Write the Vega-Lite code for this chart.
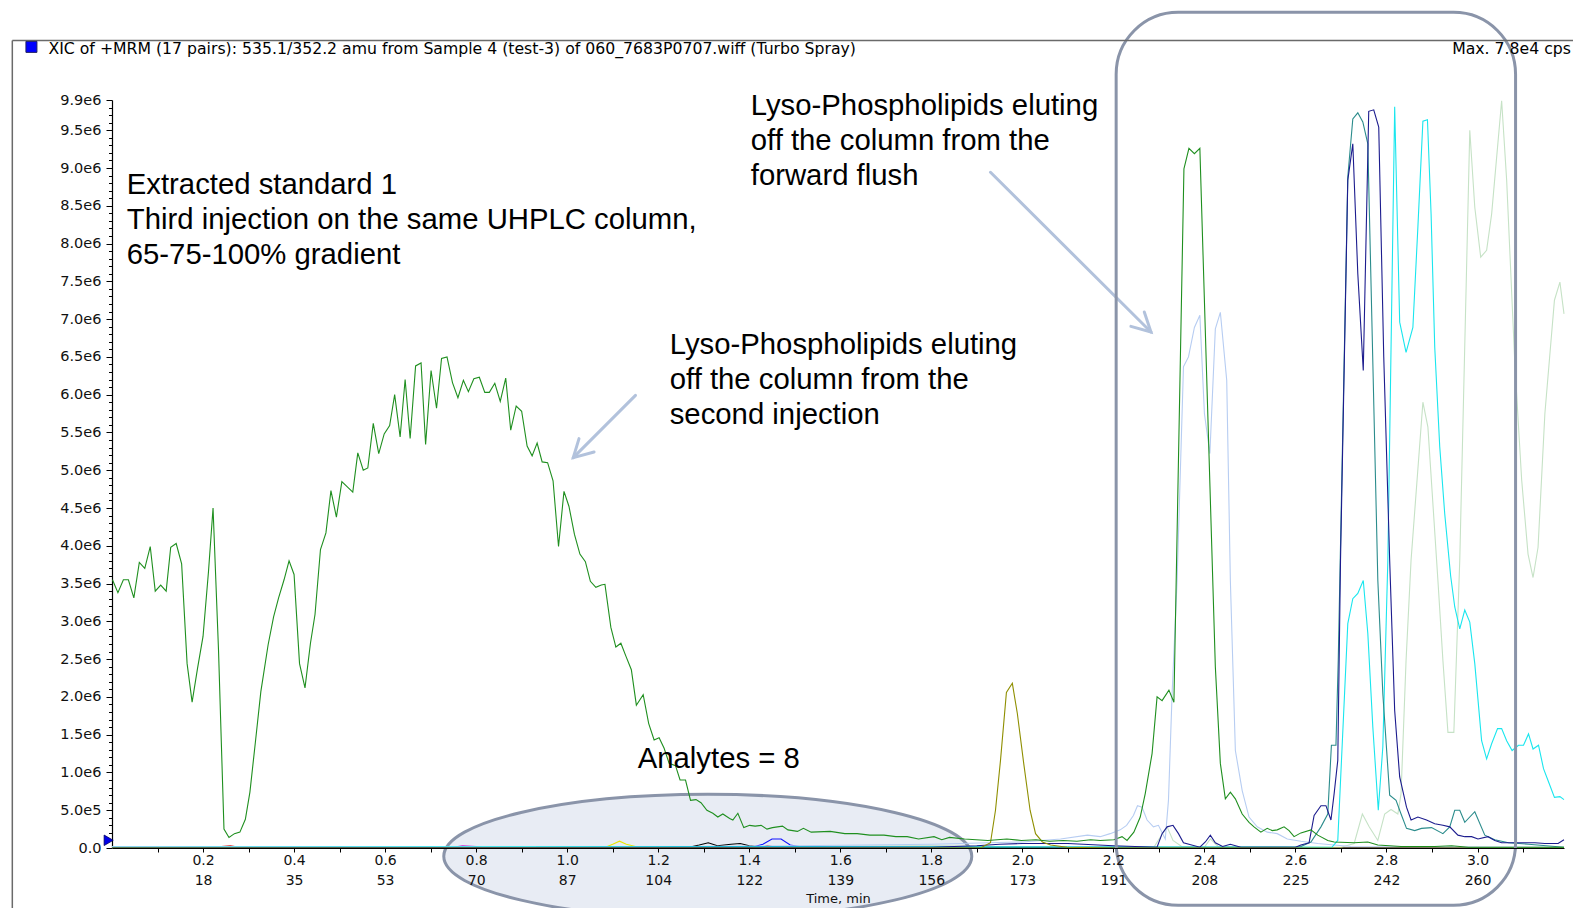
{
  "$schema": "https://vega.github.io/schema/vega-lite/v6.json",
  "autosize": {"type": "none"},
  "padding": {"left": 112, "top": 100, "right": 9, "bottom": 60},
  "width": 1452,
  "height": 748,
  "background": "white",
  "config": {"view": {"stroke": null}, "font": "DejaVu Sans"},
  "datasets": {
    "traces": [
      {"trace": "mrm11", "t": 0.0, "cps": 0}, {"trace": "mrm11", "t": 0.22, "cps": 0}, {"trace": "mrm11", "t": 0.24, "cps": 20000}, {"trace": "mrm11", "t": 0.26, "cps": 30000}, {"trace": "mrm11", "t": 0.28, "cps": 10000}, {"trace": "mrm11", "t": 0.3, "cps": 0}, {"trace": "mrm11", "t": 1.42, "cps": 0}, {"trace": "mrm11", "t": 1.44, "cps": 30000}, {"trace": "mrm11", "t": 1.46, "cps": 10000}, {"trace": "mrm11", "t": 1.5, "cps": 0}, {"trace": "mrm11", "t": 3.19, "cps": 0},
      {"trace": "mrm12", "t": 0.0, "cps": 0}, {"trace": "mrm12", "t": 0.74, "cps": 0}, {"trace": "mrm12", "t": 0.77, "cps": 30000}, {"trace": "mrm12", "t": 0.8, "cps": 20000}, {"trace": "mrm12", "t": 0.82, "cps": 0}, {"trace": "mrm12", "t": 1.25, "cps": 0}, {"trace": "mrm12", "t": 1.27, "cps": 20000}, {"trace": "mrm12", "t": 1.29, "cps": 0}, {"trace": "mrm12", "t": 3.19, "cps": 0},
      {"trace": "mrm08", "t": 0.0, "cps": 0}, {"trace": "mrm08", "t": 1.08, "cps": 0}, {"trace": "mrm08", "t": 1.1, "cps": 50000}, {"trace": "mrm08", "t": 1.115, "cps": 90000}, {"trace": "mrm08", "t": 1.13, "cps": 50000}, {"trace": "mrm08", "t": 1.15, "cps": 20000}, {"trace": "mrm08", "t": 1.17, "cps": 10000}, {"trace": "mrm08", "t": 1.2, "cps": 0}, {"trace": "mrm08", "t": 3.19, "cps": 0},
      {"trace": "mrm09", "t": 0.0, "cps": 0}, {"trace": "mrm09", "t": 1.26, "cps": 0}, {"trace": "mrm09", "t": 1.29, "cps": 40000}, {"trace": "mrm09", "t": 1.31, "cps": 70000}, {"trace": "mrm09", "t": 1.33, "cps": 30000}, {"trace": "mrm09", "t": 1.36, "cps": 50000}, {"trace": "mrm09", "t": 1.38, "cps": 60000}, {"trace": "mrm09", "t": 1.4, "cps": 30000}, {"trace": "mrm09", "t": 1.43, "cps": 10000}, {"trace": "mrm09", "t": 1.46, "cps": 0}, {"trace": "mrm09", "t": 3.19, "cps": 0},
      {"trace": "mrm10", "t": 0.0, "cps": 0}, {"trace": "mrm10", "t": 1.4, "cps": 0}, {"trace": "mrm10", "t": 1.43, "cps": 50000}, {"trace": "mrm10", "t": 1.45, "cps": 120000}, {"trace": "mrm10", "t": 1.47, "cps": 120000}, {"trace": "mrm10", "t": 1.49, "cps": 40000}, {"trace": "mrm10", "t": 1.52, "cps": 10000}, {"trace": "mrm10", "t": 1.55, "cps": 0}, {"trace": "mrm10", "t": 3.19, "cps": 0},
      {"trace": "mrm07", "t": 0.0, "cps": 0}, {"trace": "mrm07", "t": 1.5, "cps": 20000}, {"trace": "mrm07", "t": 1.8, "cps": 30000}, {"trace": "mrm07", "t": 2.2, "cps": 0}, {"trace": "mrm07", "t": 2.29, "cps": 20000}, {"trace": "mrm07", "t": 2.307, "cps": 180000}, {"trace": "mrm07", "t": 2.318, "cps": 280000}, {"trace": "mrm07", "t": 2.331, "cps": 100000}, {"trace": "mrm07", "t": 2.35, "cps": 20000}, {"trace": "mrm07", "t": 2.4, "cps": 10000}, {"trace": "mrm07", "t": 2.413, "cps": 120000}, {"trace": "mrm07", "t": 2.43, "cps": 20000}, {"trace": "mrm07", "t": 2.7, "cps": 10000}, {"trace": "mrm07", "t": 2.729, "cps": 60000}, {"trace": "mrm07", "t": 2.747, "cps": 450000}, {"trace": "mrm07", "t": 2.762, "cps": 280000}, {"trace": "mrm07", "t": 2.781, "cps": 100000}, {"trace": "mrm07", "t": 2.796, "cps": 450000}, {"trace": "mrm07", "t": 2.81, "cps": 510000}, {"trace": "mrm07", "t": 2.825, "cps": 450000}, {"trace": "mrm07", "t": 2.832, "cps": 720000}, {"trace": "mrm07", "t": 2.843, "cps": 2480000}, {"trace": "mrm07", "t": 2.854, "cps": 3810000}, {"trace": "mrm07", "t": 2.88, "cps": 5900000}, {"trace": "mrm07", "t": 2.891, "cps": 5570000}, {"trace": "mrm07", "t": 2.913, "cps": 3540000}, {"trace": "mrm07", "t": 2.924, "cps": 2480000}, {"trace": "mrm07", "t": 2.935, "cps": 1530000}, {"trace": "mrm07", "t": 2.948, "cps": 1530000}, {"trace": "mrm07", "t": 2.961, "cps": 3810000}, {"trace": "mrm07", "t": 2.983, "cps": 9500000}, {"trace": "mrm07", "t": 2.994, "cps": 8480000}, {"trace": "mrm07", "t": 3.007, "cps": 7820000}, {"trace": "mrm07", "t": 3.02, "cps": 7910000}, {"trace": "mrm07", "t": 3.031, "cps": 8390000}, {"trace": "mrm07", "t": 3.053, "cps": 9890000}, {"trace": "mrm07", "t": 3.064, "cps": 8840000}, {"trace": "mrm07", "t": 3.082, "cps": 6410000}, {"trace": "mrm07", "t": 3.097, "cps": 4870000}, {"trace": "mrm07", "t": 3.111, "cps": 3890000}, {"trace": "mrm07", "t": 3.122, "cps": 3580000}, {"trace": "mrm07", "t": 3.133, "cps": 3980000}, {"trace": "mrm07", "t": 3.148, "cps": 5750000}, {"trace": "mrm07", "t": 3.169, "cps": 7250000}, {"trace": "mrm07", "t": 3.181, "cps": 7490000}, {"trace": "mrm07", "t": 3.19, "cps": 7070000},
      {"trace": "mrm03", "t": 0.0, "cps": 20000}, {"trace": "mrm03", "t": 0.5, "cps": 20000}, {"trace": "mrm03", "t": 1.0, "cps": 10000}, {"trace": "mrm03", "t": 1.5, "cps": 30000}, {"trace": "mrm03", "t": 1.8, "cps": 50000}, {"trace": "mrm03", "t": 2.0, "cps": 80000}, {"trace": "mrm03", "t": 2.084, "cps": 120000}, {"trace": "mrm03", "t": 2.143, "cps": 170000}, {"trace": "mrm03", "t": 2.171, "cps": 150000}, {"trace": "mrm03", "t": 2.193, "cps": 190000}, {"trace": "mrm03", "t": 2.215, "cps": 240000}, {"trace": "mrm03", "t": 2.229, "cps": 300000}, {"trace": "mrm03", "t": 2.244, "cps": 430000}, {"trace": "mrm03", "t": 2.253, "cps": 560000}, {"trace": "mrm03", "t": 2.263, "cps": 540000}, {"trace": "mrm03", "t": 2.274, "cps": 370000}, {"trace": "mrm03", "t": 2.288, "cps": 280000}, {"trace": "mrm03", "t": 2.299, "cps": 300000}, {"trace": "mrm03", "t": 2.314, "cps": 120000}, {"trace": "mrm03", "t": 2.321, "cps": 630000}, {"trace": "mrm03", "t": 2.329, "cps": 2040000}, {"trace": "mrm03", "t": 2.34, "cps": 3540000}, {"trace": "mrm03", "t": 2.354, "cps": 6370000}, {"trace": "mrm03", "t": 2.365, "cps": 6500000}, {"trace": "mrm03", "t": 2.378, "cps": 6890000}, {"trace": "mrm03", "t": 2.39, "cps": 7050000}, {"trace": "mrm03", "t": 2.4, "cps": 5750000}, {"trace": "mrm03", "t": 2.412, "cps": 5220000}, {"trace": "mrm03", "t": 2.424, "cps": 6870000}, {"trace": "mrm03", "t": 2.435, "cps": 7090000}, {"trace": "mrm03", "t": 2.449, "cps": 6190000}, {"trace": "mrm03", "t": 2.457, "cps": 3540000}, {"trace": "mrm03", "t": 2.468, "cps": 1290000}, {"trace": "mrm03", "t": 2.483, "cps": 760000}, {"trace": "mrm03", "t": 2.498, "cps": 410000}, {"trace": "mrm03", "t": 2.516, "cps": 280000}, {"trace": "mrm03", "t": 2.538, "cps": 210000}, {"trace": "mrm03", "t": 2.56, "cps": 190000}, {"trace": "mrm03", "t": 2.582, "cps": 120000}, {"trace": "mrm03", "t": 2.612, "cps": 90000}, {"trace": "mrm03", "t": 2.649, "cps": 60000}, {"trace": "mrm03", "t": 2.685, "cps": 40000}, {"trace": "mrm03", "t": 2.722, "cps": 20000}, {"trace": "mrm03", "t": 3.19, "cps": 10000},
      {"trace": "mrm06", "t": 0.0, "cps": 10000}, {"trace": "mrm06", "t": 1.5, "cps": 20000}, {"trace": "mrm06", "t": 2.68, "cps": 10000}, {"trace": "mrm06", "t": 2.693, "cps": 100000}, {"trace": "mrm06", "t": 2.715, "cps": 2970000}, {"trace": "mrm06", "t": 2.726, "cps": 3300000}, {"trace": "mrm06", "t": 2.737, "cps": 3370000}, {"trace": "mrm06", "t": 2.749, "cps": 3540000}, {"trace": "mrm06", "t": 2.759, "cps": 2840000}, {"trace": "mrm06", "t": 2.77, "cps": 1600000}, {"trace": "mrm06", "t": 2.782, "cps": 500000}, {"trace": "mrm06", "t": 2.792, "cps": 1340000}, {"trace": "mrm06", "t": 2.803, "cps": 3810000}, {"trace": "mrm06", "t": 2.818, "cps": 9810000}, {"trace": "mrm06", "t": 2.829, "cps": 6960000}, {"trace": "mrm06", "t": 2.843, "cps": 6560000}, {"trace": "mrm06", "t": 2.858, "cps": 6890000}, {"trace": "mrm06", "t": 2.869, "cps": 8220000}, {"trace": "mrm06", "t": 2.88, "cps": 9620000}, {"trace": "mrm06", "t": 2.89, "cps": 9640000}, {"trace": "mrm06", "t": 2.898, "cps": 8390000}, {"trace": "mrm06", "t": 2.906, "cps": 6630000}, {"trace": "mrm06", "t": 2.917, "cps": 5310000}, {"trace": "mrm06", "t": 2.928, "cps": 4420000}, {"trace": "mrm06", "t": 2.941, "cps": 3600000}, {"trace": "mrm06", "t": 2.95, "cps": 3190000}, {"trace": "mrm06", "t": 2.961, "cps": 2900000}, {"trace": "mrm06", "t": 2.972, "cps": 3150000}, {"trace": "mrm06", "t": 2.983, "cps": 2990000}, {"trace": "mrm06", "t": 2.994, "cps": 2440000}, {"trace": "mrm06", "t": 3.009, "cps": 1420000}, {"trace": "mrm06", "t": 3.02, "cps": 1180000}, {"trace": "mrm06", "t": 3.031, "cps": 1380000}, {"trace": "mrm06", "t": 3.044, "cps": 1580000}, {"trace": "mrm06", "t": 3.053, "cps": 1580000}, {"trace": "mrm06", "t": 3.064, "cps": 1420000}, {"trace": "mrm06", "t": 3.076, "cps": 1290000}, {"trace": "mrm06", "t": 3.09, "cps": 1360000}, {"trace": "mrm06", "t": 3.101, "cps": 1360000}, {"trace": "mrm06", "t": 3.112, "cps": 1510000}, {"trace": "mrm06", "t": 3.122, "cps": 1310000}, {"trace": "mrm06", "t": 3.134, "cps": 1360000}, {"trace": "mrm06", "t": 3.145, "cps": 1050000}, {"trace": "mrm06", "t": 3.157, "cps": 860000}, {"trace": "mrm06", "t": 3.169, "cps": 670000}, {"trace": "mrm06", "t": 3.181, "cps": 680000}, {"trace": "mrm06", "t": 3.19, "cps": 640000},
      {"trace": "mrm05", "t": 0.0, "cps": 0}, {"trace": "mrm05", "t": 2.6, "cps": 10000}, {"trace": "mrm05", "t": 2.612, "cps": 20000}, {"trace": "mrm05", "t": 2.634, "cps": 80000}, {"trace": "mrm05", "t": 2.656, "cps": 280000}, {"trace": "mrm05", "t": 2.671, "cps": 450000}, {"trace": "mrm05", "t": 2.679, "cps": 1360000}, {"trace": "mrm05", "t": 2.689, "cps": 1360000}, {"trace": "mrm05", "t": 2.694, "cps": 2480000}, {"trace": "mrm05", "t": 2.715, "cps": 8880000}, {"trace": "mrm05", "t": 2.726, "cps": 9650000}, {"trace": "mrm05", "t": 2.737, "cps": 9730000}, {"trace": "mrm05", "t": 2.748, "cps": 9610000}, {"trace": "mrm05", "t": 2.759, "cps": 9320000}, {"trace": "mrm05", "t": 2.781, "cps": 3540000}, {"trace": "mrm05", "t": 2.792, "cps": 2040000}, {"trace": "mrm05", "t": 2.807, "cps": 700000}, {"trace": "mrm05", "t": 2.821, "cps": 630000}, {"trace": "mrm05", "t": 2.832, "cps": 450000}, {"trace": "mrm05", "t": 2.844, "cps": 260000}, {"trace": "mrm05", "t": 2.862, "cps": 230000}, {"trace": "mrm05", "t": 2.877, "cps": 260000}, {"trace": "mrm05", "t": 2.899, "cps": 270000}, {"trace": "mrm05", "t": 2.924, "cps": 190000}, {"trace": "mrm05", "t": 2.939, "cps": 280000}, {"trace": "mrm05", "t": 2.95, "cps": 500000}, {"trace": "mrm05", "t": 2.961, "cps": 500000}, {"trace": "mrm05", "t": 2.972, "cps": 340000}, {"trace": "mrm05", "t": 2.994, "cps": 480000}, {"trace": "mrm05", "t": 3.016, "cps": 170000}, {"trace": "mrm05", "t": 3.038, "cps": 110000}, {"trace": "mrm05", "t": 3.068, "cps": 70000}, {"trace": "mrm05", "t": 3.112, "cps": 50000}, {"trace": "mrm05", "t": 3.19, "cps": 10000},
      {"trace": "mrm04", "t": 0.0, "cps": 0}, {"trace": "mrm04", "t": 1.8, "cps": 10000}, {"trace": "mrm04", "t": 1.9, "cps": 30000}, {"trace": "mrm04", "t": 1.95, "cps": 50000}, {"trace": "mrm04", "t": 2.0, "cps": 60000}, {"trace": "mrm04", "t": 2.1, "cps": 60000}, {"trace": "mrm04", "t": 2.2, "cps": 30000}, {"trace": "mrm04", "t": 2.296, "cps": 10000}, {"trace": "mrm04", "t": 2.307, "cps": 190000}, {"trace": "mrm04", "t": 2.318, "cps": 280000}, {"trace": "mrm04", "t": 2.331, "cps": 300000}, {"trace": "mrm04", "t": 2.343, "cps": 190000}, {"trace": "mrm04", "t": 2.354, "cps": 70000}, {"trace": "mrm04", "t": 2.39, "cps": 10000}, {"trace": "mrm04", "t": 2.402, "cps": 80000}, {"trace": "mrm04", "t": 2.413, "cps": 170000}, {"trace": "mrm04", "t": 2.424, "cps": 70000}, {"trace": "mrm04", "t": 2.44, "cps": 20000}, {"trace": "mrm04", "t": 2.457, "cps": 50000}, {"trace": "mrm04", "t": 2.48, "cps": 10000}, {"trace": "mrm04", "t": 2.6, "cps": 10000}, {"trace": "mrm04", "t": 2.612, "cps": 40000}, {"trace": "mrm04", "t": 2.63, "cps": 70000}, {"trace": "mrm04", "t": 2.641, "cps": 430000}, {"trace": "mrm04", "t": 2.656, "cps": 560000}, {"trace": "mrm04", "t": 2.667, "cps": 560000}, {"trace": "mrm04", "t": 2.678, "cps": 370000}, {"trace": "mrm04", "t": 2.685, "cps": 720000}, {"trace": "mrm04", "t": 2.693, "cps": 1160000}, {"trace": "mrm04", "t": 2.699, "cps": 3810000}, {"trace": "mrm04", "t": 2.715, "cps": 8840000}, {"trace": "mrm04", "t": 2.726, "cps": 9320000}, {"trace": "mrm04", "t": 2.737, "cps": 7600000}, {"trace": "mrm04", "t": 2.749, "cps": 6320000}, {"trace": "mrm04", "t": 2.761, "cps": 9750000}, {"trace": "mrm04", "t": 2.772, "cps": 9770000}, {"trace": "mrm04", "t": 2.783, "cps": 9540000}, {"trace": "mrm04", "t": 2.794, "cps": 6500000}, {"trace": "mrm04", "t": 2.807, "cps": 3810000}, {"trace": "mrm04", "t": 2.818, "cps": 1820000}, {"trace": "mrm04", "t": 2.829, "cps": 940000}, {"trace": "mrm04", "t": 2.844, "cps": 540000}, {"trace": "mrm04", "t": 2.854, "cps": 370000}, {"trace": "mrm04", "t": 2.869, "cps": 410000}, {"trace": "mrm04", "t": 2.888, "cps": 370000}, {"trace": "mrm04", "t": 2.906, "cps": 320000}, {"trace": "mrm04", "t": 2.924, "cps": 300000}, {"trace": "mrm04", "t": 2.939, "cps": 280000}, {"trace": "mrm04", "t": 2.957, "cps": 170000}, {"trace": "mrm04", "t": 2.972, "cps": 150000}, {"trace": "mrm04", "t": 2.987, "cps": 150000}, {"trace": "mrm04", "t": 3.001, "cps": 120000}, {"trace": "mrm04", "t": 3.023, "cps": 150000}, {"trace": "mrm04", "t": 3.038, "cps": 100000}, {"trace": "mrm04", "t": 3.053, "cps": 70000}, {"trace": "mrm04", "t": 3.089, "cps": 70000}, {"trace": "mrm04", "t": 3.126, "cps": 70000}, {"trace": "mrm04", "t": 3.148, "cps": 60000}, {"trace": "mrm04", "t": 3.177, "cps": 60000}, {"trace": "mrm04", "t": 3.19, "cps": 110000},
      {"trace": "mrm02", "t": 0.0, "cps": 0}, {"trace": "mrm02", "t": 1.908, "cps": 0}, {"trace": "mrm02", "t": 1.93, "cps": 70000}, {"trace": "mrm02", "t": 1.941, "cps": 500000}, {"trace": "mrm02", "t": 1.952, "cps": 1160000}, {"trace": "mrm02", "t": 1.965, "cps": 2060000}, {"trace": "mrm02", "t": 1.978, "cps": 2180000}, {"trace": "mrm02", "t": 1.989, "cps": 1780000}, {"trace": "mrm02", "t": 2.003, "cps": 1120000}, {"trace": "mrm02", "t": 2.017, "cps": 500000}, {"trace": "mrm02", "t": 2.029, "cps": 190000}, {"trace": "mrm02", "t": 2.044, "cps": 80000}, {"trace": "mrm02", "t": 2.062, "cps": 40000}, {"trace": "mrm02", "t": 2.098, "cps": 10000}, {"trace": "mrm02", "t": 2.2, "cps": 0}, {"trace": "mrm02", "t": 3.19, "cps": 0},
      {"trace": "mrm01", "t": 0.001, "cps": 3550000}, {"trace": "mrm01", "t": 0.013, "cps": 3380000}, {"trace": "mrm01", "t": 0.025, "cps": 3550000}, {"trace": "mrm01", "t": 0.036, "cps": 3550000}, {"trace": "mrm01", "t": 0.048, "cps": 3310000}, {"trace": "mrm01", "t": 0.06, "cps": 3780000}, {"trace": "mrm01", "t": 0.072, "cps": 3700000}, {"trace": "mrm01", "t": 0.084, "cps": 3990000}, {"trace": "mrm01", "t": 0.095, "cps": 3400000}, {"trace": "mrm01", "t": 0.107, "cps": 3480000}, {"trace": "mrm01", "t": 0.119, "cps": 3400000}, {"trace": "mrm01", "t": 0.129, "cps": 3980000}, {"trace": "mrm01", "t": 0.141, "cps": 4030000}, {"trace": "mrm01", "t": 0.153, "cps": 3760000}, {"trace": "mrm01", "t": 0.165, "cps": 2440000}, {"trace": "mrm01", "t": 0.176, "cps": 1930000}, {"trace": "mrm01", "t": 0.188, "cps": 2380000}, {"trace": "mrm01", "t": 0.2, "cps": 2800000}, {"trace": "mrm01", "t": 0.212, "cps": 3660000}, {"trace": "mrm01", "t": 0.222, "cps": 4500000}, {"trace": "mrm01", "t": 0.234, "cps": 2620000}, {"trace": "mrm01", "t": 0.246, "cps": 250000}, {"trace": "mrm01", "t": 0.257, "cps": 140000}, {"trace": "mrm01", "t": 0.269, "cps": 190000}, {"trace": "mrm01", "t": 0.281, "cps": 210000}, {"trace": "mrm01", "t": 0.293, "cps": 380000}, {"trace": "mrm01", "t": 0.303, "cps": 740000}, {"trace": "mrm01", "t": 0.315, "cps": 1400000}, {"trace": "mrm01", "t": 0.327, "cps": 2070000}, {"trace": "mrm01", "t": 0.343, "cps": 2690000}, {"trace": "mrm01", "t": 0.355, "cps": 3060000}, {"trace": "mrm01", "t": 0.366, "cps": 3310000}, {"trace": "mrm01", "t": 0.378, "cps": 3550000}, {"trace": "mrm01", "t": 0.389, "cps": 3800000}, {"trace": "mrm01", "t": 0.4, "cps": 3620000}, {"trace": "mrm01", "t": 0.412, "cps": 2440000}, {"trace": "mrm01", "t": 0.424, "cps": 2120000}, {"trace": "mrm01", "t": 0.436, "cps": 2710000}, {"trace": "mrm01", "t": 0.446, "cps": 3090000}, {"trace": "mrm01", "t": 0.458, "cps": 3950000}, {"trace": "mrm01", "t": 0.47, "cps": 4170000}, {"trace": "mrm01", "t": 0.481, "cps": 4730000}, {"trace": "mrm01", "t": 0.493, "cps": 4380000}, {"trace": "mrm01", "t": 0.505, "cps": 4850000}, {"trace": "mrm01", "t": 0.517, "cps": 4780000}, {"trace": "mrm01", "t": 0.529, "cps": 4710000}, {"trace": "mrm01", "t": 0.54, "cps": 5230000}, {"trace": "mrm01", "t": 0.552, "cps": 5000000}, {"trace": "mrm01", "t": 0.562, "cps": 5030000}, {"trace": "mrm01", "t": 0.574, "cps": 5620000}, {"trace": "mrm01", "t": 0.586, "cps": 5220000}, {"trace": "mrm01", "t": 0.598, "cps": 5480000}, {"trace": "mrm01", "t": 0.61, "cps": 5590000}, {"trace": "mrm01", "t": 0.621, "cps": 6000000}, {"trace": "mrm01", "t": 0.633, "cps": 5440000}, {"trace": "mrm01", "t": 0.644, "cps": 6200000}, {"trace": "mrm01", "t": 0.655, "cps": 5420000}, {"trace": "mrm01", "t": 0.667, "cps": 6380000}, {"trace": "mrm01", "t": 0.679, "cps": 6420000}, {"trace": "mrm01", "t": 0.689, "cps": 5340000}, {"trace": "mrm01", "t": 0.701, "cps": 6320000}, {"trace": "mrm01", "t": 0.713, "cps": 5820000}, {"trace": "mrm01", "t": 0.724, "cps": 6480000}, {"trace": "mrm01", "t": 0.736, "cps": 6500000}, {"trace": "mrm01", "t": 0.748, "cps": 6160000}, {"trace": "mrm01", "t": 0.76, "cps": 5960000}, {"trace": "mrm01", "t": 0.772, "cps": 6190000}, {"trace": "mrm01", "t": 0.783, "cps": 6040000}, {"trace": "mrm01", "t": 0.795, "cps": 6210000}, {"trace": "mrm01", "t": 0.807, "cps": 6230000}, {"trace": "mrm01", "t": 0.819, "cps": 6030000}, {"trace": "mrm01", "t": 0.829, "cps": 6030000}, {"trace": "mrm01", "t": 0.841, "cps": 6150000}, {"trace": "mrm01", "t": 0.853, "cps": 5910000}, {"trace": "mrm01", "t": 0.865, "cps": 6220000}, {"trace": "mrm01", "t": 0.876, "cps": 5530000}, {"trace": "mrm01", "t": 0.888, "cps": 5850000}, {"trace": "mrm01", "t": 0.9, "cps": 5780000}, {"trace": "mrm01", "t": 0.912, "cps": 5320000}, {"trace": "mrm01", "t": 0.923, "cps": 5190000}, {"trace": "mrm01", "t": 0.934, "cps": 5360000}, {"trace": "mrm01", "t": 0.945, "cps": 5110000}, {"trace": "mrm01", "t": 0.957, "cps": 5100000}, {"trace": "mrm01", "t": 0.969, "cps": 4860000}, {"trace": "mrm01", "t": 0.981, "cps": 3990000}, {"trace": "mrm01", "t": 0.993, "cps": 4720000}, {"trace": "mrm01", "t": 1.004, "cps": 4520000}, {"trace": "mrm01", "t": 1.016, "cps": 4150000}, {"trace": "mrm01", "t": 1.028, "cps": 3890000}, {"trace": "mrm01", "t": 1.04, "cps": 3790000}, {"trace": "mrm01", "t": 1.051, "cps": 3530000}, {"trace": "mrm01", "t": 1.063, "cps": 3450000}, {"trace": "mrm01", "t": 1.075, "cps": 3480000}, {"trace": "mrm01", "t": 1.083, "cps": 3490000}, {"trace": "mrm01", "t": 1.096, "cps": 2920000}, {"trace": "mrm01", "t": 1.107, "cps": 2660000}, {"trace": "mrm01", "t": 1.118, "cps": 2710000}, {"trace": "mrm01", "t": 1.129, "cps": 2540000}, {"trace": "mrm01", "t": 1.141, "cps": 2360000}, {"trace": "mrm01", "t": 1.152, "cps": 1890000}, {"trace": "mrm01", "t": 1.167, "cps": 2030000}, {"trace": "mrm01", "t": 1.179, "cps": 1650000}, {"trace": "mrm01", "t": 1.191, "cps": 1430000}, {"trace": "mrm01", "t": 1.202, "cps": 1460000}, {"trace": "mrm01", "t": 1.213, "cps": 1320000}, {"trace": "mrm01", "t": 1.224, "cps": 1120000}, {"trace": "mrm01", "t": 1.238, "cps": 1090000}, {"trace": "mrm01", "t": 1.248, "cps": 900000}, {"trace": "mrm01", "t": 1.26, "cps": 900000}, {"trace": "mrm01", "t": 1.271, "cps": 630000}, {"trace": "mrm01", "t": 1.283, "cps": 640000}, {"trace": "mrm01", "t": 1.294, "cps": 600000}, {"trace": "mrm01", "t": 1.307, "cps": 500000}, {"trace": "mrm01", "t": 1.32, "cps": 460000}, {"trace": "mrm01", "t": 1.331, "cps": 410000}, {"trace": "mrm01", "t": 1.342, "cps": 450000}, {"trace": "mrm01", "t": 1.357, "cps": 390000}, {"trace": "mrm01", "t": 1.364, "cps": 370000}, {"trace": "mrm01", "t": 1.375, "cps": 460000}, {"trace": "mrm01", "t": 1.388, "cps": 270000}, {"trace": "mrm01", "t": 1.401, "cps": 300000}, {"trace": "mrm01", "t": 1.413, "cps": 290000}, {"trace": "mrm01", "t": 1.426, "cps": 300000}, {"trace": "mrm01", "t": 1.439, "cps": 250000}, {"trace": "mrm01", "t": 1.451, "cps": 270000}, {"trace": "mrm01", "t": 1.473, "cps": 290000}, {"trace": "mrm01", "t": 1.485, "cps": 240000}, {"trace": "mrm01", "t": 1.506, "cps": 220000}, {"trace": "mrm01", "t": 1.519, "cps": 260000}, {"trace": "mrm01", "t": 1.536, "cps": 210000}, {"trace": "mrm01", "t": 1.578, "cps": 220000}, {"trace": "mrm01", "t": 1.61, "cps": 190000}, {"trace": "mrm01", "t": 1.637, "cps": 190000}, {"trace": "mrm01", "t": 1.665, "cps": 170000}, {"trace": "mrm01", "t": 1.696, "cps": 170000}, {"trace": "mrm01", "t": 1.722, "cps": 150000}, {"trace": "mrm01", "t": 1.747, "cps": 150000}, {"trace": "mrm01", "t": 1.772, "cps": 120000}, {"trace": "mrm01", "t": 1.806, "cps": 150000}, {"trace": "mrm01", "t": 1.823, "cps": 110000}, {"trace": "mrm01", "t": 1.84, "cps": 140000}, {"trace": "mrm01", "t": 1.873, "cps": 120000}, {"trace": "mrm01", "t": 1.924, "cps": 100000}, {"trace": "mrm01", "t": 1.966, "cps": 120000}, {"trace": "mrm01", "t": 1.998, "cps": 100000}, {"trace": "mrm01", "t": 2.03, "cps": 110000}, {"trace": "mrm01", "t": 2.06, "cps": 90000}, {"trace": "mrm01", "t": 2.09, "cps": 100000}, {"trace": "mrm01", "t": 2.12, "cps": 90000}, {"trace": "mrm01", "t": 2.15, "cps": 110000}, {"trace": "mrm01", "t": 2.171, "cps": 100000}, {"trace": "mrm01", "t": 2.201, "cps": 110000}, {"trace": "mrm01", "t": 2.219, "cps": 150000}, {"trace": "mrm01", "t": 2.23, "cps": 100000}, {"trace": "mrm01", "t": 2.245, "cps": 210000}, {"trace": "mrm01", "t": 2.259, "cps": 410000}, {"trace": "mrm01", "t": 2.27, "cps": 720000}, {"trace": "mrm01", "t": 2.285, "cps": 1250000}, {"trace": "mrm01", "t": 2.296, "cps": 2000000}, {"trace": "mrm01", "t": 2.307, "cps": 1950000}, {"trace": "mrm01", "t": 2.322, "cps": 2090000}, {"trace": "mrm01", "t": 2.333, "cps": 1930000}, {"trace": "mrm01", "t": 2.355, "cps": 8990000}, {"trace": "mrm01", "t": 2.366, "cps": 9260000}, {"trace": "mrm01", "t": 2.378, "cps": 9190000}, {"trace": "mrm01", "t": 2.39, "cps": 9260000}, {"trace": "mrm01", "t": 2.424, "cps": 2400000}, {"trace": "mrm01", "t": 2.435, "cps": 1120000}, {"trace": "mrm01", "t": 2.446, "cps": 650000}, {"trace": "mrm01", "t": 2.457, "cps": 740000}, {"trace": "mrm01", "t": 2.468, "cps": 650000}, {"trace": "mrm01", "t": 2.483, "cps": 450000}, {"trace": "mrm01", "t": 2.498, "cps": 340000}, {"trace": "mrm01", "t": 2.509, "cps": 280000}, {"trace": "mrm01", "t": 2.524, "cps": 210000}, {"trace": "mrm01", "t": 2.538, "cps": 260000}, {"trace": "mrm01", "t": 2.549, "cps": 230000}, {"trace": "mrm01", "t": 2.56, "cps": 240000}, {"trace": "mrm01", "t": 2.575, "cps": 280000}, {"trace": "mrm01", "t": 2.586, "cps": 230000}, {"trace": "mrm01", "t": 2.597, "cps": 150000}, {"trace": "mrm01", "t": 2.612, "cps": 200000}, {"trace": "mrm01", "t": 2.634, "cps": 240000}, {"trace": "mrm01", "t": 2.649, "cps": 170000}, {"trace": "mrm01", "t": 2.671, "cps": 100000}, {"trace": "mrm01", "t": 2.685, "cps": 80000}, {"trace": "mrm01", "t": 2.729, "cps": 70000}, {"trace": "mrm01", "t": 2.759, "cps": 80000}, {"trace": "mrm01", "t": 2.781, "cps": 40000}, {"trace": "mrm01", "t": 2.832, "cps": 20000}, {"trace": "mrm01", "t": 2.906, "cps": 20000}, {"trace": "mrm01", "t": 2.943, "cps": 30000}, {"trace": "mrm01", "t": 2.98, "cps": 10000}, {"trace": "mrm01", "t": 3.19, "cps": 10000}
    ],
    "captions": [
      {"t": 0.0324, "cps": 8659000, "text": "Extracted standard 1"},
      {"t": 0.0324, "cps": 8196000, "text": "Third injection on the same UHPLC column,"},
      {"t": 0.0324, "cps": 7733000, "text": "65-75-100% gradient"},
      {"t": 1.2253, "cps": 6542000, "text": "Lyso-Phospholipids eluting"},
      {"t": 1.2253, "cps": 6079000, "text": "off the column from the"},
      {"t": 1.2253, "cps": 5615000, "text": "second injection"},
      {"t": 1.4033, "cps": 9705000, "text": "Lyso-Phospholipids eluting"},
      {"t": 1.4033, "cps": 9242000, "text": "off the column from the"},
      {"t": 1.4033, "cps": 8778000, "text": "forward flush"},
      {"t": 1.155, "cps": 1063000, "text": "Analytes = 8"}
    ],
    "header": [
      {"t": -0.1396, "cps": 10504000, "text": "XIC of +MRM (17 pairs): 535.1/352.2 amu from Sample 4 (test-3) of 060_7683P0707.wiff (Turbo Spray)", "side": "left"},
      {"t": 3.2052, "cps": 10504000, "text": "Max. 7.8e4 cps", "side": "right"}
    ],
    "arrows": [
      {"arrow": "a1", "ord": 1, "t": 1.1501, "cps": 5991000},
      {"arrow": "a1", "ord": 2, "t": 1.0134, "cps": 5167000},
      {"arrow": "a1h", "ord": 1, "t": 1.026, "cps": 5418000},
      {"arrow": "a1h", "ord": 2, "t": 1.0134, "cps": 5167000},
      {"arrow": "a1h", "ord": 3, "t": 1.0591, "cps": 5241000},
      {"arrow": "a2", "ord": 1, "t": 1.93, "cps": 8943000},
      {"arrow": "a2", "ord": 2, "t": 2.2826, "cps": 6829000},
      {"arrow": "a2h", "ord": 1, "t": 2.2679, "cps": 7094000},
      {"arrow": "a2h", "ord": 2, "t": 2.2826, "cps": 6829000},
      {"arrow": "a2h", "ord": 3, "t": 2.2385, "cps": 6904000}
    ],
    "frame": [
      {"t": -0.219, "t2": 3.2224, "cps": 10688000, "cps2": 10688000},
      {"t": -0.219, "t2": -0.219, "cps": 10688000, "cps2": -800000}
    ],
    "box": [{"t": 2.2061, "t2": 3.0836, "cps": 11060000, "cps2": -758000}],
    "ellipse": [{"t": 1.3089, "cps": -110000}],
    "swatch": [{"t": -0.177, "cps": 10603000}],
    "marker": [{"t": -0.0073, "cps": 102000}]
  },
  "encoding": {
    "x": {
      "field": "t", "type": "quantitative",
      "scale": {"domain": [0, 3.19], "nice": false, "zero": false},
      "axis": {
        "title": "Time, min",
        "zindex": 1,
        "values": [0.1, 0.2, 0.3, 0.4, 0.5, 0.6, 0.7, 0.8, 0.9, 1.0, 1.1, 1.2, 1.3, 1.4, 1.5, 1.6, 1.7, 1.8, 1.9, 2.0, 2.1, 2.2, 2.3, 2.4, 2.5, 2.6, 2.7, 2.8, 2.9, 3.0, 3.1],
        "labelExpr": "round(datum.value * 10) % 2 == 0 ? [format(datum.value, '.1f'), ['', '18', '35', '53', '70', '87', '104', '122', '139', '156', '173', '191', '208', '225', '242', '260'][round(datum.value * 5)]] : ''",
        "grid": false,
        "tickSize": 4, "tickColor": "#000000", "domainColor": "#000000", "domainWidth": 1.2,
        "labelFont": "DejaVu Sans", "labelFontSize": 14, "labelColor": "#111111", "labelLineHeight": 20, "labelPadding": 1,
        "labelOverlap": false, "labelFlush": false,
        "titleFont": "DejaVu Sans", "titleFontSize": 13, "titleFontWeight": "normal", "titleColor": "#111111", "titlePadding": 5
      }
    },
    "y": {
      "field": "cps", "type": "quantitative",
      "scale": {"domain": [0, 9900000], "nice": false, "zero": true},
      "axis": {
        "title": null,
        "values": [0, 100000, 200000, 300000, 400000, 500000, 600000, 700000, 800000, 900000, 1000000, 1100000, 1200000, 1300000, 1400000, 1500000, 1600000, 1700000, 1800000, 1900000, 2000000, 2100000, 2200000, 2300000, 2400000, 2500000, 2600000, 2700000, 2800000, 2900000, 3000000, 3100000, 3200000, 3300000, 3400000, 3500000, 3600000, 3700000, 3800000, 3900000, 4000000, 4100000, 4200000, 4300000, 4400000, 4500000, 4600000, 4700000, 4800000, 4900000, 5000000, 5100000, 5200000, 5300000, 5400000, 5500000, 5600000, 5700000, 5800000, 5900000, 6000000, 6100000, 6200000, 6300000, 6400000, 6500000, 6600000, 6700000, 6800000, 6900000, 7000000, 7100000, 7200000, 7300000, 7400000, 7500000, 7600000, 7700000, 7800000, 7900000, 8000000, 8100000, 8200000, 8300000, 8400000, 8500000, 8600000, 8700000, 8800000, 8900000, 9000000, 9100000, 9200000, 9300000, 9400000, 9500000, 9600000, 9700000, 9800000, 9900000],
        "labelExpr": "(datum.value % 500000 == 0 || datum.value == 9900000) ? (datum.value == 0 ? '0.0' : (datum.value < 1000000 ? format(datum.value / 100000, '.1f') + 'e5' : format(datum.value / 1000000, '.1f') + 'e6')) : ''",
        "grid": false,
        "tickSize": {"condition": {"test": "datum.value % 500000 == 0 || datum.value == 9900000", "value": 6}, "value": 3.5},
        "tickColor": "#000000", "domainColor": "#000000", "domainWidth": 1.2,
        "labelFont": "DejaVu Sans", "labelFontSize": 14.5, "labelColor": "#111111", "labelPadding": 5,
        "labelOverlap": false
      }
    }
  },
  "layer": [
    {
      "data": {"name": "ellipse"},
      "mark": {"type": "point", "shape": "M-1,0C-1,-0.1297,-0.5523,-0.2348,0,-0.2348C0.5523,-0.2348,1,-0.1297,1,0C1,0.1297,0.5523,0.2348,0,0.2348C-0.5523,0.2348,-1,0.1297,-1,0Z", "size": 278784, "filled": true, "fill": "#dbe2ee", "fillOpacity": 0.65, "stroke": "#8a94a9", "strokeWidth": 3, "opacity": 1}
    },
    {
      "data": {"name": "traces"},
      "mark": {"type": "line", "strokeWidth": 1.1, "clip": false},
      "encoding": {
        "color": {
          "field": "trace", "type": "nominal", "legend": null,
          "scale": {
            "domain": ["mrm01", "mrm02", "mrm03", "mrm04", "mrm05", "mrm06", "mrm07", "mrm08", "mrm09", "mrm10", "mrm11", "mrm12"],
            "range": ["#1f8f1f", "#8f8f00", "#b7cdf2", "#1c1c8e", "#2b8c8c", "#19e6ee", "#c6e2c6", "#e8e800", "#000000", "#1010ff", "#e01010", "#d020d0"]
          }
        }
      }
    },
    {
      "data": {"name": "arrows"},
      "mark": {"type": "line", "color": "#b2c2dc", "strokeWidth": 3, "strokeCap": "round", "strokeJoin": "miter"},
      "encoding": {"detail": {"field": "arrow"}, "order": {"field": "ord", "type": "quantitative"}}
    },
    {
      "data": {"name": "box"},
      "mark": {"type": "rect", "fill": null, "fillOpacity": 0, "stroke": "#8a94a9", "strokeWidth": 3, "cornerRadius": 62},
      "encoding": {"x2": {"field": "t2"}, "y2": {"field": "cps2"}}
    },
    {
      "data": {"name": "frame"},
      "mark": {"type": "rule", "color": "#6a6a6a", "strokeWidth": 1.5},
      "encoding": {"x2": {"field": "t2"}, "y2": {"field": "cps2"}}
    },
    {
      "data": {"name": "swatch"},
      "mark": {"type": "point", "shape": "square", "size": 121, "filled": true, "fill": "#0000ff", "stroke": "#202060", "strokeWidth": 1, "opacity": 1}
    },
    {
      "data": {"name": "marker"},
      "mark": {"type": "point", "shape": "triangle-right", "size": 110, "filled": true, "fill": "#0000e8", "stroke": "#000060", "strokeWidth": 0.8, "opacity": 1}
    },
    {
      "data": {"name": "captions"},
      "mark": {"type": "text", "font": "Liberation Sans", "fontSize": 29.3, "align": "left", "baseline": "alphabetic", "color": "#000000"},
      "encoding": {"text": {"field": "text"}}
    },
    {
      "data": {"name": "header"},
      "transform": [{"filter": "datum.side == 'left'"}],
      "mark": {"type": "text", "font": "DejaVu Sans", "fontSize": 15.7, "align": "left", "baseline": "alphabetic", "color": "#000000"},
      "encoding": {"text": {"field": "text"}}
    },
    {
      "data": {"name": "header"},
      "transform": [{"filter": "datum.side == 'right'"}],
      "mark": {"type": "text", "font": "DejaVu Sans", "fontSize": 15.7, "align": "right", "baseline": "alphabetic", "color": "#000000"},
      "encoding": {"text": {"field": "text"}}
    }
  ]
}
